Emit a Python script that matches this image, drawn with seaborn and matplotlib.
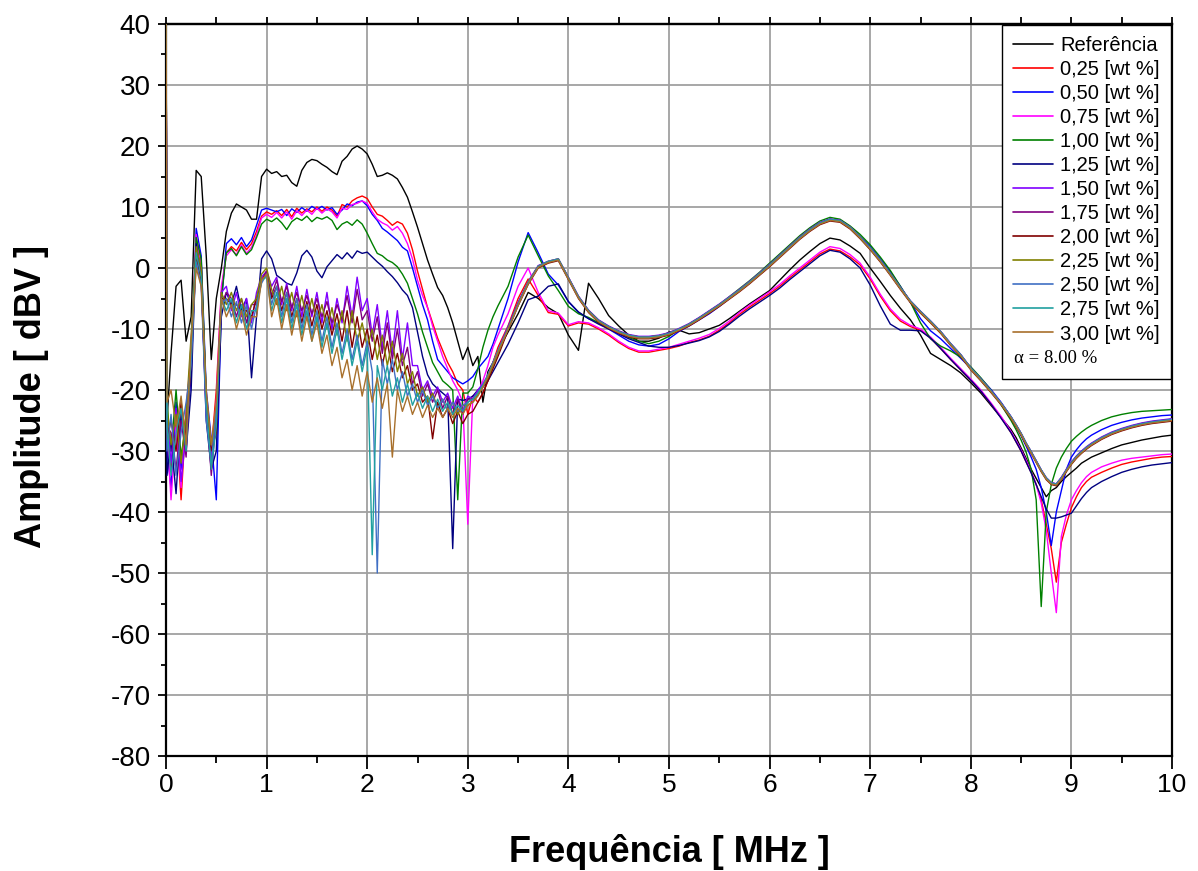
import numpy as np
import pandas as pd
import matplotlib
matplotlib.use("Agg")
import matplotlib.pyplot as plt
import seaborn as sns
from matplotlib import font_manager as fm
from matplotlib.ticker import MultipleLocator
from matplotlib.lines import Line2D

# ---------------- data ----------------
FREQ = np.round(np.concatenate([
    [0.0, 0.01], np.arange(0.05, 3.3001, 0.05),
    np.arange(3.4, 8.4001, 0.1),
    np.arange(8.45, 9.2001, 0.05),
    np.arange(9.3, 10.0001, 0.1)]), 3)

SERIES = ["Referência", "0,25 [wt %]", "0,50 [wt %]", "0,75 [wt %]", "1,00 [wt %]",
          "1,25 [wt %]", "1,50 [wt %]", "1,75 [wt %]", "2,00 [wt %]", "2,25 [wt %]",
          "2,50 [wt %]", "2,75 [wt %]", "3,00 [wt %]"]

REF = [50, -25,
       -14, -3, -2, -12, -8, 16, 15, 2, -15, -5,
       0, 6, 9, 10.5, 10, 9.5, 8, 8, 15, 16.2,
       15.5, 15.8, 15, 15.2, 14, 13.4, 16, 17.3, 17.8, 17.6,
       17, 16.5, 15.8, 15.3, 17.5, 18.3, 19.5, 20, 19.5, 18.7,
       17.0, 15, 15.2, 15.6, 15.2, 14.6, 13.2, 11.6, 9.2, 6.7,
       4, 1.3, -1, -3.2, -4.5, -6.5, -9, -12, -15, -13,
       -16, -14.5, -22, -17, -15.5, -13.5,
       -10.5, -7.5, -4, -5, -6.5, -7.5,
       -11, -13.5, -2.5, -5, -7.8, -9.5, -11, -12, -12, -11.5,
       -10.5, -10.2, -10.8, -10.6, -10, -9.4, -8.3, -7.1, -5.9, -4.8,
       -3.7, -2, -0.3, 1.3, 2.7, 4, 4.9, 4.6, 3.6, 2.4,
       0, -2.2, -4.5, -6.6, -8.5, -11, -14, -15, -16, -17.2,
       -18.8, -20.5, -22.5, -24.5, -26.5,
       -27.8, -29.5, -31.2, -33, -34.5, -36, -37.5, -36.5,
       -36, -35, -34.2, -33.5, -32.8, -32.0, -31.5, -31.0,
       -30.3, -29.6, -29.0, -28.6, -28.2, -27.9, -27.6, -27.4]

W025 = [50, -28,
        -33, -25, -38, -24, -15, 5, 1, -22, -30, -20,
        -4, 2.5, 3.5, 2.8, 4.2, 3, 4, 6, 8.5, 9.2,
        8.8, 9.4, 8.6, 9.6, 8.4, 9.8, 9.0, 9.7, 9.2, 10,
        9.3, 10, 9.5, 8.5, 10.4, 10.0, 11, 11.5, 11.8, 11.4,
        10, 8.8, 8.5, 7.8, 7, 7.6, 7.2, 5.7, 3, -0.5,
        -3.5, -6.5, -9, -11.5, -13.5, -15.5, -17, -19, -20, -24,
        -21, -22, -20.5, -18.5, -15.5, -13,
        -9.5, -5, -1.8, -4.5, -7.3, -7.6,
        -9.5, -9, -9.2, -10, -11, -12.2, -13.2, -13.8, -13.8, -13.5,
        -13.2, -12.8, -12.2, -11.8, -11.2, -10.2, -9, -7.6, -6.4, -5.3,
        -4.2, -3, -1.6, -0.3, 1, 2.3, 3.1, 2.8, 1.8, 0.5,
        -1.8, -4.6, -7, -8.7, -9.6, -10.2, -11.5, -13.2, -15, -16.7,
        -18.4, -20.2, -22.3, -24.5, -27,
        -28.5, -30, -31.8, -33.5, -35.5, -38, -42, -46,
        -51.5, -45, -42, -39.3, -37.5, -36, -35, -34.3,
        -33.5, -32.8, -32.2, -31.8, -31.5, -31.2, -31, -30.9]

W050 = [50, -30,
        -36, -22, -33, -26, -18, 6.5, 2, -20, -28, -38,
        -6, 4, 4.8, 3.8, 5, 3.5, 4.6, 7, 9.5, 9.8,
        9.5, 9.2, 9.6, 8.6, 9.7, 9.1, 9.9, 9.3, 10.1, 9.6,
        10.1, 9.5, 9.9, 8.8, 9.5, 10.5, 10.2, 10.8, 11, 10.2,
        8.8, 7.8, 6.5, 5.9, 5.2, 4.5, 3.4, 2.8, 0, -3,
        -6, -8.5, -12, -15, -16, -17, -18, -18.5, -19, -18.5,
        -17.8, -16.5, -15.5, -14.5, -12.5, -10,
        -5, 1, 5.8, 2.5, -1, -2.8,
        -5.5, -7.3, -8.3, -9, -10, -11, -12, -12.6, -12.8, -12.5,
        -11.6, -10.4, -9.5, -8.5, -7.5, -6.3, -5, -3.7, -2.4, -1,
        0.5, 2, 3.5, 5, 6.3, 7.4, 8, 7.7, 6.6, 5.2,
        3.5, 1.5, -0.6, -3, -5.6, -8.3, -10.3, -11.6, -13.2, -14.8,
        -16.4, -18.1, -19.9, -22, -24.4,
        -26, -27.5, -29.2, -31, -33, -36, -40, -45.5,
        -40, -36.5, -33, -31, -29.8, -28.8, -28, -27.4,
        -26.5, -25.8, -25.3, -24.9, -24.6, -24.4, -24.2, -24.1]

W075 = [50, -27,
        -38, -26, -36, -23, -14, 5.5, 0, -24, -31, -22,
        -3, 2, 3, 2.2, 3.8, 2.4, 3.4, 5.4, 8.2, 8.8,
        8.3, 9.1, 8.2, 9.2, 8.0, 9.4, 8.6, 9.5, 8.8, 9.8,
        9.0, 9.7, 9.2, 8.2, 9.8, 9.6, 10.4, 10.6, 11, 10.6,
        9.2, 8.0, 7.4, 7, 6.2, 6.8, 5.7, 4, 1.5, -2,
        -4.5, -6.5, -9.5, -12, -14.5, -16.5, -18.5, -20, -22, -42,
        -21, -20.5, -18.5, -16, -13, -11,
        -7.5, -3, 0, -4, -7, -7.4,
        -9.3, -8.8, -9, -9.8, -10.8, -12, -13, -13.6, -13.6, -13.3,
        -13, -12.5, -12, -11.5, -10.9, -9.9, -8.7, -7.3, -6.1, -5,
        -3.9, -2.7, -1.3, 0, 1.3, 2.6, 3.5, 3.2, 2.2, 0.8,
        -1.5, -4.3, -6.7, -8.4, -9.4, -10, -11.3, -13, -14.8, -16.5,
        -18.2, -20, -22.1, -24.3, -26.8,
        -28.3, -29.8, -31.5, -33.3, -35.5, -38.5, -43, -50,
        -56.5, -44, -40.5, -38, -36.5, -35.2, -34.2, -33.5,
        -32.6, -32, -31.5, -31.2, -31, -30.8, -30.6, -30.5]

W100 = [50, -22,
        -30, -20, -31, -25, -16, 5, 1.5, -21, -29, -24,
        -5, 2.5, 3.2, 2, 3.5, 2.2, 3, 5, 7.2, 8,
        7.6, 8.2, 7.4, 6.3, 7.6, 8.2, 7.8, 8.5, 7.6, 8.3,
        8.0, 8.4, 7.8, 6.3, 7.2, 7.6, 7.0, 7.9, 7.2, 5.7,
        4.0, 2.4, 2.0, 1.3, 0.9, 0.2, -1.0, -2.5, -5.0, -7.5,
        -10.5, -13, -15.5, -17, -18.5, -19.2, -20, -38, -20.5, -20.5,
        -19.5, -16.5, -13, -10.2, -8, -6.2,
        -3, 1.8, 5.4, 2, -1.3, -3.7,
        -6.3, -7.5, -8.1, -9, -9.8, -10.5, -11.4, -12, -12.4, -12,
        -11.2, -10.1, -9.2, -8.2, -7.1, -6, -4.7, -3.4, -2.1, -0.7,
        0.8, 2.3, 3.8, 5.3, 6.6, 7.7, 8.3, 8, 6.9, 5.5,
        3.8, 1.8, -0.4, -3, -5.6, -9, -11.6, -12.8, -13.6, -14.6,
        -16.2, -18, -20, -22.4, -25,
        -26.5, -28.2, -30.2, -33, -38, -55.5, -40, -35.5,
        -32.8, -31, -29.6, -28.4, -27.6, -26.9, -26.3, -25.8,
        -25, -24.4, -24, -23.7, -23.5, -23.4, -23.3, -23.2]

W125 = [50, -34,
        -28, -37, -24, -30, -20, 4, -1, -25, -33, -30,
        -8, -4, -6, -3, -7, -5, -18, -8, 1.5, 2.8,
        1.5, -1.2, -1.8, -2.5, -2.8, -0.8, 2.0, 2.9, 1.8, -0.5,
        -1.6, 0.2, 1.2, 2.2, 1.5, 2.5, 1.6, 2.8, 2.4, 2.6,
        1.8, 1.0, 0.3, -0.6, -1.4, -2.4, -3.6, -4.5, -6.5, -10.5,
        -14.5, -17.5, -19, -19.8, -20.5, -21.2, -46, -21.5, -21.7, -21.5,
        -21, -20, -19.5, -18.5, -17, -15.5,
        -12.5, -9, -5.2, -4.6, -3, -2.6,
        -5.5, -7.2, -8.3, -9.2, -10, -10.8, -11.6, -12.2, -12.8, -13,
        -13, -12.7, -12.3, -11.9, -11.3, -10.4, -9.2, -7.9, -6.7, -5.6,
        -4.5, -3.3, -1.9, -0.6, 0.7, 2, 2.9, 2.6, 1.5, 0,
        -2.8, -6.2, -9.2, -10.2, -10.2, -10.3, -11.5, -13.2, -15, -16.7,
        -18.4, -20.2, -22.3, -24.6, -27,
        -28.5, -30, -31.8, -33.6, -35.5, -37.5, -39.5, -41,
        -41, -40.8, -40.5, -40.2, -39, -37.8, -36.8, -36,
        -35, -34.2, -33.5, -33, -32.6, -32.3, -32.1, -31.9]

W150 = [50, -24,
        -32, -23, -35, -27, -12, 2, -2, -24, -31, -26,
        -4, -3, -7, -4, -8, -5, -9, -4, -1.5, -0.5,
        -3, -1.5, -6, -2.5, -7, -3, -8, -3.5, -8, -4,
        -9, -4, -10, -5, -9, -3, -8, -1.5, -7, -5,
        -11, -6, -13, -7, -14, -7, -15, -9, -16, -16,
        -20, -18.5, -21, -19.5, -22, -20.5, -23, -21, -23.5, -21,
        -21.5, -20, -19, -17.5, -15.5, -13.5,
        -9.6, -5.6, -2.2, 0.4, 1.1, 1.5,
        -1.5, -4.6, -6.9, -8.5, -9.5, -10.3, -10.9, -11.2, -11.2, -11.0,
        -10.6, -9.9, -9.1, -8.1, -7.0, -5.9, -4.7, -3.5, -2.2, -0.8,
        0.6, 2.1, 3.6, 5.1, 6.4, 7.5, 8.0, 7.8, 6.7, 5.1,
        3.3, 1.3, -0.9, -3.2, -5.4, -7.1, -8.7, -10.4, -12.4, -14.2,
        -16.4, -18.2, -20.1, -22.1, -24.4,
        -25.7, -27.1, -28.7, -30.1, -31.6, -33.1, -34.4, -35.2,
        -35.4, -34.3, -33.0, -31.8, -30.8, -30.0, -29.3, -28.7,
        -27.7, -26.9, -26.3, -25.8, -25.4, -25.1, -24.9, -24.7]

W175 = [50, -26,
        -27, -33, -25, -31, -14, 3, -1, -22, -34, -24,
        -6, -4, -5, -8, -5, -9, -6, -6, -2, -0.5,
        -4.5, -2, -5.5, -3, -6.5, -4, -7, -4.5, -7.5, -5,
        -8, -5.5, -9, -6, -8.5, -4.5, -9, -3.5, -8.5, -7,
        -12, -8, -14, -9, -15, -10, -16, -13, -19, -17,
        -21, -19, -22, -20, -23, -21, -24, -21.5, -24, -21.5,
        -21.5, -20.5, -19.5, -18, -16, -14,
        -9.8, -5.8, -2.4, 0.3, 1.0, 1.4,
        -1.6, -4.7, -7.0, -8.6, -9.6, -10.4, -11.0, -11.3, -11.3, -11.1,
        -10.7, -10.0, -9.2, -8.2, -7.1, -6.0, -4.8, -3.6, -2.3, -0.9,
        0.5, 2.0, 3.5, 5.0, 6.3, 7.4, 8.0, 7.8, 6.7, 5.1,
        3.3, 1.3, -0.9, -3.2, -5.4, -7.1, -8.7, -10.4, -12.4, -14.2,
        -16.4, -18.2, -20.1, -22.1, -24.4,
        -25.7, -27.1, -28.7, -30.1, -31.6, -33.1, -34.4, -35.2,
        -35.4, -34.4, -33.1, -31.9, -30.9, -30.1, -29.4, -28.8,
        -27.8, -27.0, -26.4, -25.9, -25.5, -25.2, -25.0, -24.8]

W200 = [50, -28,
        -25, -30, -22, -28, -15, 2, -2, -23, -30, -27,
        -5, -5, -6, -6, -7, -7, -8, -5, -2, -1,
        -5, -3, -7, -4, -8, -5, -9, -5.5, -9.5, -6,
        -10, -7, -11, -7.5, -12, -7, -13, -8, -13, -10,
        -15, -11, -16, -12, -17, -14, -18, -16, -20, -19,
        -22, -21, -28, -22, -24.5, -23, -25.5, -23.5, -25.5, -24,
        -23.5, -22, -20.5, -18.5, -16.5, -14.5,
        -10.2, -6.2, -2.7, 0.0, 0.8, 1.2,
        -1.9, -5.0, -7.3, -8.9, -9.9, -10.7, -11.3, -11.6, -11.6, -11.4,
        -11.0, -10.3, -9.5, -8.5, -7.4, -6.3, -5.1, -3.9, -2.6, -1.2,
        0.2, 1.7, 3.2, 4.7, 6.0, 7.1, 7.7, 7.5, 6.4, 4.8,
        3.0, 1.0, -1.2, -3.5, -5.7, -7.4, -9.0, -10.7, -12.7, -14.5,
        -16.7, -18.5, -20.4, -22.4, -24.7,
        -26.0, -27.4, -29.0, -30.4, -31.9, -33.4, -34.7, -35.5,
        -35.7, -34.7, -33.4, -32.2, -31.2, -30.4, -29.7, -29.1,
        -28.1, -27.3, -26.7, -26.2, -25.8, -25.5, -25.3, -25.1]

W225 = [50, -23,
        -29, -24, -32, -24, -11, 3.5, 0, -21, -29, -25,
        -4, -6, -4, -7, -5, -8, -6, -5, -1, 0,
        -3.5, -6, -3, -7, -4, -8, -4.5, -8.5, -5, -9,
        -6, -10, -6.5, -11, -7, -12, -7, -12, -9, -13,
        -10, -15, -11, -16, -12, -17, -14, -19, -17, -21,
        -19.5, -22, -20.5, -23, -21.5, -23.5, -22, -24, -22.5, -22.5,
        -22, -20.8, -19.5, -18, -16, -14,
        -9.9, -5.9, -2.3, 0.3, 1.1, 1.5,
        -1.6, -4.7, -7.0, -8.6, -9.6, -10.4, -11.0, -11.3, -11.3, -11.1,
        -10.7, -10.0, -9.2, -8.2, -7.1, -6.0, -4.8, -3.6, -2.3, -0.9,
        0.5, 2.0, 3.5, 5.0, 6.3, 7.4, 7.9, 7.7, 6.6, 5.0,
        3.2, 1.2, -1.0, -3.3, -5.5, -7.2, -8.8, -10.5, -12.5, -14.3,
        -16.5, -18.3, -20.2, -22.2, -24.5,
        -25.8, -27.2, -28.8, -30.2, -31.7, -33.2, -34.5, -35.3,
        -35.5, -34.5, -33.2, -32.0, -31.0, -30.2, -29.5, -28.9,
        -27.9, -27.1, -26.5, -26.0, -25.6, -25.3, -25.1, -24.9]

W250 = [50, -30,
        -24, -34, -27, -22, -16, 1, -3, -25, -32, -23,
        -6, -5, -8, -5.5, -9, -6, -10, -6, -2.5, -1,
        -6, -3, -8, -4, -9, -5, -10, -6, -11, -7,
        -12, -8, -13, -9, -14, -10, -15, -11, -16, -12,
        -17, -50, -15, -19, -15, -20, -17, -21, -19, -22,
        -20, -22.5, -21, -23, -21.5, -23.5, -22, -23.5, -22.5, -22,
        -21.5, -20.5, -19.2, -17.6, -15.6, -13.6,
        -9.9, -5.9, -2.4, 0.3, 1.1, 1.5,
        -1.6, -4.7, -7.0, -8.6, -9.6, -10.4, -11.0, -11.3, -11.3, -11.1,
        -10.7, -10.0, -9.2, -8.2, -7.1, -6.0, -4.8, -3.6, -2.3, -0.9,
        0.5, 2.0, 3.5, 5.0, 6.3, 7.4, 8.0, 7.8, 6.7, 5.1,
        3.3, 1.3, -0.9, -3.2, -5.4, -7.1, -8.7, -10.4, -12.4, -14.2,
        -16.4, -18.2, -20.1, -22.1, -24.4,
        -25.7, -27.1, -28.7, -30.1, -31.6, -33.1, -34.4, -35.2,
        -35.4, -34.4, -33.1, -31.9, -30.9, -30.1, -29.4, -28.8,
        -27.8, -27.0, -26.4, -25.9, -25.5, -25.2, -25.0, -24.8]

W275 = [50, -26,
        -34, -27, -23, -30, -13, 2.5, -1.5, -22, -33, -26,
        -5, -7, -5, -9, -6, -10, -7, -7, -2, -1.5,
        -7, -4, -9, -5, -10, -6, -11, -7, -12, -8,
        -13, -9, -14, -10, -15, -11, -16, -12, -17, -13,
        -47, -16, -20, -16, -21, -18, -22, -19, -22.5, -20.5,
        -23, -21, -23.5, -21.5, -23.5, -22, -24, -22.5, -23.5, -22,
        -21.5, -20.5, -19.2, -17.6, -15.6, -13.6,
        -10.0, -6.0, -2.5, 0.2, 1.0, 1.4,
        -1.7, -4.8, -7.1, -8.7, -9.7, -10.5, -11.1, -11.4, -11.4, -11.2,
        -10.8, -10.1, -9.3, -8.3, -7.2, -6.1, -4.9, -3.7, -2.4, -1.0,
        0.4, 1.9, 3.4, 4.9, 6.2, 7.3, 7.9, 7.7, 6.6, 5.0,
        3.2, 1.2, -1.0, -3.3, -5.5, -7.2, -8.8, -10.5, -12.5, -14.3,
        -16.5, -18.3, -20.2, -22.2, -24.5,
        -25.8, -27.2, -28.8, -30.2, -31.7, -33.2, -34.5, -35.3,
        -35.5, -34.5, -33.2, -32.0, -31.0, -30.2, -29.5, -28.9,
        -27.9, -27.1, -26.5, -26.0, -25.6, -25.3, -25.1, -24.9]

W300 = [50, -22,
        -20, -26, -21, -29, -12, 0, -3, -20, -29, -22,
        -5, -8, -6, -10, -7, -11, -8, -8, -2, -1,
        -8, -5, -10, -6, -11, -7, -12, -8, -12, -9,
        -14, -11, -16, -13, -18, -15, -20, -16, -21, -17,
        -22, -18, -23, -19, -31, -20, -23.5, -21, -24, -22,
        -24.5, -22.5, -24.5, -23, -24.5, -23, -24.5, -23, -24, -22.5,
        -22, -21, -19.5, -17.8, -15.8, -13.8,
        -10.1, -6.1, -2.6, 0.1, 0.9, 1.3,
        -1.8, -4.9, -7.2, -8.8, -9.8, -10.6, -11.2, -11.5, -11.5, -11.3,
        -10.9, -10.2, -9.4, -8.4, -7.3, -6.2, -5.0, -3.8, -2.5, -1.1,
        0.3, 1.8, 3.3, 4.8, 6.1, 7.2, 7.8, 7.6, 6.5, 4.9,
        3.1, 1.1, -1.1, -3.4, -5.6, -7.3, -8.9, -10.6, -12.6, -14.4,
        -16.6, -18.4, -20.3, -22.3, -24.6,
        -25.9, -27.3, -28.9, -30.3, -31.8, -33.3, -34.6, -35.4,
        -35.6, -34.6, -33.3, -32.1, -31.1, -30.3, -29.6, -29.0,
        -28.0, -27.2, -26.6, -26.1, -25.7, -25.4, -25.2, -25.0]

COLORS = ["#000000", "#ff0000", "#0000ff", "#ff00ff", "#008000", "#000080",
          "#8000ff", "#800080", "#800000", "#808000", "#3f6fc4", "#20a0a0", "#a8702c"]

VALUES = [REF, W025, W050, W075, W100, W125, W150, W175, W200, W225, W250, W275, W300]

# ---------------- fonts ----------------
_names = {f.name for f in fm.fontManager.ttflist}
NARROW = "Liberation Sans Narrow" if "Liberation Sans Narrow" in _names else "Liberation Sans"
SANS = "Liberation Sans" if "Liberation Sans" in _names else "DejaVu Sans"
SERIF = "Liberation Serif" if "Liberation Serif" in _names else "DejaVu Serif"

sns.set_style("white")
plt.rcParams["font.family"] = [SANS, "DejaVu Sans"]
plt.rcParams["axes.unicode_minus"] = False
for k in ("text.color", "axes.labelcolor", "xtick.color", "ytick.color"):
    plt.rcParams[k] = "black"

frames = []
for name, vals in zip(SERIES, VALUES):
    assert len(vals) == len(FREQ), (name, len(vals), len(FREQ))
    frames.append(pd.DataFrame({"freq": FREQ, "amp": vals, "series": name}))
df = pd.concat(frames, ignore_index=True)

fig = plt.figure(figsize=(11.98, 8.71), dpi=100)
ax = fig.add_axes([166 / 1198, 1 - 756 / 871, (1172 - 166) / 1198, (756 - 24) / 871])

sns.lineplot(data=df, x="freq", y="amp", hue="series", hue_order=SERIES,
             palette=dict(zip(SERIES, COLORS)), estimator=None, sort=False,
             linewidth=1.0, legend=False, ax=ax, zorder=3)

ax.set_xlim(0, 10)
ax.set_ylim(-80, 40)
ax.xaxis.set_major_locator(MultipleLocator(1))
ax.xaxis.set_minor_locator(MultipleLocator(0.5))
ax.yaxis.set_major_locator(MultipleLocator(10))
ax.yaxis.set_minor_locator(MultipleLocator(5))
ax.grid(True, which="major", color="#a0a0a0", linewidth=1.3, zorder=0)
ax.set_axisbelow(True)

for s in ax.spines.values():
    s.set_color("black")
    s.set_linewidth(1.6)
    s.set_visible(True)

ax.tick_params(axis="x", which="major", direction="out", length=9, width=1.3,
               bottom=True, top=False, pad=3, labelsize=19, colors="black")
ax.tick_params(axis="x", which="minor", direction="out", length=5, width=1.3,
               bottom=True, top=False, colors="black")
ax.tick_params(axis="y", which="major", direction="out", length=6, width=1.3,
               left=True, right=False, pad=5, labelsize=20, colors="black")
ax.tick_params(axis="y", which="minor", direction="out", length=3.5, width=1.3,
               left=True, right=False, colors="black")
for lab in ax.get_xticklabels():
    lab.set_fontfamily(NARROW)
for lab in ax.get_yticklabels():
    lab.set_fontfamily(SANS)

top = ax.secondary_xaxis("top")
top.xaxis.set_major_locator(MultipleLocator(1))
top.xaxis.set_minor_locator(MultipleLocator(0.5))
top.tick_params(axis="x", which="both", direction="out", length=5, width=1.3,
                labeltop=False, colors="black")
top.spines["top"].set_linewidth(1.6)

ax.set_xlabel("Frequência [ MHz ]", fontsize=26, fontweight="bold", family=NARROW, color="black")
ax.xaxis.set_label_coords(0.5, (756 - 852) / 732)
ax.xaxis.label.set_va("center")
ax.set_ylabel("Amplitude [ dBV ]", fontsize=26, fontweight="bold", family=NARROW, color="black")
ax.yaxis.set_label_coords((32 - 166) / 1006, (756 - 397) / 732)
ax.yaxis.label.set_va("center")

handles = [Line2D([], [], color=c, linewidth=1.2) for c in COLORS]
labels = list(SERIES)
handles.append(Line2D([], [], color="none"))
labels.append(" ")
leg = ax.legend(handles, labels, loc="upper right", bbox_to_anchor=(1.0, 1.0),
                borderaxespad=0.05, frameon=True, fancybox=False, framealpha=1,
                edgecolor="black", prop={"family": SANS, "size": 14.5},
                handlelength=2.0, handletextpad=0.35, labelspacing=0.25,
                borderpad=0.55)
leg.get_frame().set_linewidth(1.0)
leg.set_zorder(10)

# place the alpha note inside the last (blank) legend row
fig.canvas.draw()
_tb = leg.get_texts()[-1].get_window_extent()
_fb = leg.get_frame().get_window_extent()
fig.text((_fb.x0 + 12) / fig.bbox.width, ((_tb.y0 + _tb.y1) / 2) / fig.bbox.height,
         "α = 8.00 %", fontsize=13.5, family=SERIF, va="center", ha="left",
         zorder=20, color="black")

fig.savefig("out.png", dpi=100)
